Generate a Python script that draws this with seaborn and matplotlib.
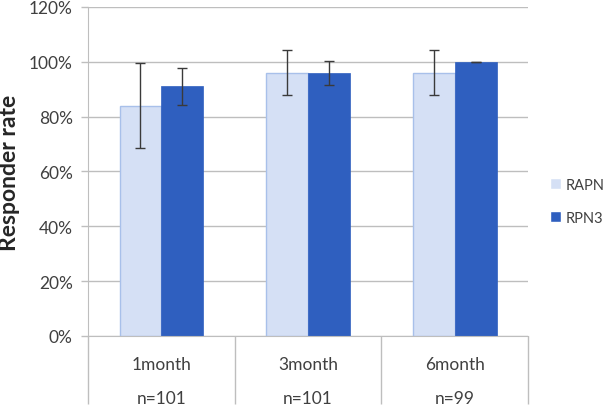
import numpy as np
import pandas as pd
import matplotlib
matplotlib.use("Agg")
import matplotlib.pyplot as plt
import seaborn as sns
from matplotlib.ticker import PercentFormatter

# data
periods = ["1month", "3month", "6month"]
n_labels = ["n=101", "n=101", "n=99"]
groups = ["RAPN", "RPN3"]
rapn_rate = [84, 96, 96]
rpn3_rate = [91, 96, 100]
rapn_err = [15.5, 8.3, 8.3]
rpn3_err = [6.8, 4.4, 0.0]

light = "#D5E0F5"
light_edge = "#A8C0EA"
dark = "#2F5FBF"

df = pd.DataFrame({
    "period": periods * 2,
    "group": [groups[0]] * 3 + [groups[1]] * 3,
    "rate": rapn_rate + rpn3_rate,
})

sns.set_style("white")
plt.rcParams["font.family"] = ["Lato", "DejaVu Sans"]

fig = plt.figure(figsize=(6.07, 4.14), dpi=100)
ax = fig.add_axes([0.145, 0.186, 0.725, 0.795])

sns.barplot(data=df, x="period", y="rate", hue="group", order=periods,
            hue_order=groups, palette=[light, dark], width=0.57,
            errorbar=None, saturation=1, ax=ax)

# bar edges
for patch in ax.containers[0]:
    patch.set_edgecolor(light_edge)
    patch.set_linewidth(1)
for patch in ax.containers[1]:
    patch.set_edgecolor(dark)
    patch.set_linewidth(0.5)

# error bars placed on the bar centres
for cont, vals, errs in zip(ax.containers, [rapn_rate, rpn3_rate], [rapn_err, rpn3_err]):
    xs = [p.get_x() + p.get_width() / 2 for p in cont]
    ax.errorbar(xs, vals, yerr=errs, fmt="none", ecolor="#3a3a3a",
                elinewidth=1, capsize=3.5, capthick=1, zorder=5)

ax.set_ylim(0, 120)
ax.set_xlim(-0.5, 2.5)
ax.set_yticks(np.arange(0, 121, 20))
ax.yaxis.set_major_formatter(PercentFormatter(decimals=0))
ax.grid(axis="y", color="#BEBEBE", linewidth=1)
ax.set_axisbelow(True)

for side in ["top", "right"]:
    ax.spines[side].set_visible(False)
ax.spines["left"].set_color("#BEBEBE")
ax.spines["bottom"].set_color("#BEBEBE")

ax.tick_params(axis="y", length=5, width=1, color="#BEBEBE", pad=6,
               labelsize=12.5, labelcolor="#404040", left=True)

# category table below the axis
ax.set_xticks(range(len(periods)))
ax.set_xticklabels([])
ax.tick_params(axis="x", which="major", length=0)
ax.set_xticks([-0.5, 0.5, 1.5, 2.5], minor=True)
ax.tick_params(axis="x", which="minor", length=49, width=1, color="#BEBEBE", bottom=True)
for i, (p, n) in enumerate(zip(periods, n_labels)):
    ax.annotate(p, (i, 0), xycoords=("data", "axes fraction"), xytext=(0, -20),
                textcoords="offset points", ha="center", va="center",
                fontsize=12.5, color="#404040")
    ax.annotate(n, (i, 0), xycoords=("data", "axes fraction"), xytext=(0, -45),
                textcoords="offset points", ha="center", va="center",
                fontsize=12.5, color="#404040")

ax.set_xlabel("")
ax.set_ylabel("Responder rate", fontsize=16.5, fontweight="bold")
ax.yaxis.set_label_coords(-0.155, 0.5)

ax.legend(loc="center left", bbox_to_anchor=(1.05, 0.41), frameon=False,
          borderaxespad=0, borderpad=0,
          fontsize=10.5, handlelength=0.75, handleheight=0.75, handletextpad=0.3,
          labelspacing=1.3, labelcolor="#404040")

fig.savefig("out.png", dpi=100)
